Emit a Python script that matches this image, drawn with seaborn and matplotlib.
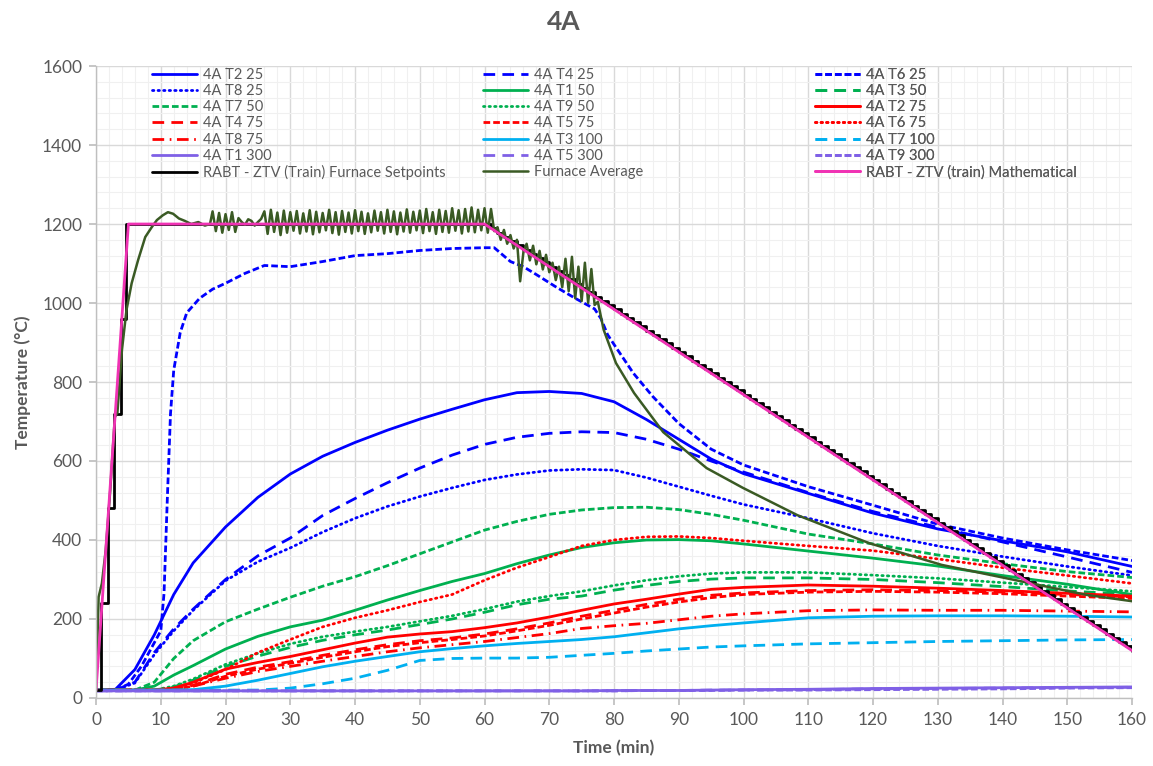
import numpy as np
import matplotlib
matplotlib.use("Agg")
import matplotlib.pyplot as plt
import seaborn as sns
from matplotlib.ticker import MultipleLocator

# ---------------- data ----------------
TIME = [0, 3, 6, 9, 12, 15, 20, 25, 30, 35, 40, 45, 50, 55, 60, 65, 70, 75, 80, 85, 90, 95, 100, 110, 120, 130, 140, 150, 160]

T2_25 = [20, 22, 72, 160, 262, 342, 433, 508, 567, 612, 647, 678, 706, 731, 755, 773, 776, 771, 750, 705, 655, 605, 568, 518, 468, 428, 398, 370, 333]
T4_25 = [20, 20, 40, 115, 175, 225, 300, 360, 405, 462, 505, 545, 582, 615, 642, 660, 670, 674, 672, 655, 630, 600, 572, 520, 472, 432, 395, 357, 318]
T8_25 = [20, 20, 38, 110, 170, 222, 297, 345, 380, 420, 455, 485, 510, 532, 552, 566, 576, 579, 577, 558, 535, 512, 490, 455, 417, 385, 358, 333, 310]
T1_50 = [20, 20, 20, 30, 58, 82, 124, 156, 180, 197, 222, 248, 272, 295, 315, 340, 362, 381, 393, 400, 401, 398, 390, 372, 354, 334, 310, 288, 262]
T3_50 = [20, 20, 20, 20, 28, 45, 80, 106, 128, 146, 160, 172, 186, 200, 217, 236, 250, 258, 273, 285, 295, 301, 304, 304, 300, 292, 282, 271, 262]
T7_50 = [20, 20, 20, 40, 100, 145, 193, 225, 255, 283, 307, 335, 365, 395, 425, 447, 465, 476, 482, 483, 477, 465, 450, 415, 390, 362, 340, 320, 305]
T9_50 = [20, 20, 20, 20, 30, 48, 85, 113, 137, 155, 168, 180, 194, 208, 225, 244, 258, 270, 285, 298, 308, 315, 318, 318, 311, 303, 292, 281, 270]
T2_75 = [20, 20, 20, 20, 25, 40, 73, 90, 105, 122, 139, 154, 162, 168, 178, 190, 205, 222, 238, 250, 263, 275, 280, 286, 283, 278, 272, 265, 258]
T4_75 = [20, 20, 20, 20, 22, 32, 60, 78, 92, 108, 122, 135, 145, 152, 162, 175, 190, 207, 222, 237, 250, 260, 266, 272, 274, 272, 268, 262, 256]
T5_75 = [20, 20, 20, 20, 22, 30, 55, 73, 88, 103, 117, 130, 140, 148, 157, 170, 184, 200, 215, 230, 243, 254, 262, 268, 270, 268, 264, 258, 252]
T6_75 = [20, 20, 20, 20, 25, 38, 72, 115, 148, 180, 203, 222, 243, 262, 298, 330, 357, 385, 400, 408, 409, 405, 398, 385, 373, 352, 330, 310, 290]
T8_75 = [20, 20, 20, 20, 21, 30, 50, 67, 80, 93, 105, 117, 127, 135, 143, 153, 163, 176, 183, 189, 198, 207, 213, 221, 223, 222, 222, 220, 218]
T3_100 = [20, 20, 20, 20, 20, 21, 30, 45, 62, 79, 93, 105, 117, 125, 132, 138, 143, 148, 155, 165, 175, 183, 190, 203, 207, 208, 208, 207, 205]
T7_100 = [20, 20, 20, 20, 20, 20, 20, 20, 25, 36, 50, 70, 95, 100, 101, 101, 103, 108, 113, 119, 124, 129, 132, 137, 140, 143, 145, 147, 148]
T1_300 = [18, 18, 18, 18, 18, 18, 18, 18, 18, 18, 18, 18, 18, 18, 18, 18, 18, 18, 19, 19, 19, 20, 21, 22, 24, 25, 26, 27, 28]
T5_300 = [18, 18, 18, 18, 18, 18, 18, 18, 18, 18, 18, 18, 18, 18, 18, 18, 18, 18, 18, 19, 19, 20, 20, 21, 23, 24, 25, 26, 27]
T9_300 = [18, 18, 18, 18, 18, 18, 18, 18, 18, 18, 18, 18, 18, 18, 18, 18, 18, 18, 18, 19, 19, 19, 20, 20, 21, 22, 23, 25, 26]

T6_25_TIME = [0, 3, 5, 7, 9, 10, 10.5, 11, 11.5, 12, 13, 14, 16, 18, 20, 23, 26, 30, 35, 40, 45, 50, 55, 60, 61.5,
              64, 66, 68, 71, 74, 77, 78, 79, 80, 83, 86, 90, 95, 100, 110, 120, 130, 140, 150, 160]
T6_25 = [20, 20, 35, 80, 140, 170, 265, 500, 720, 830, 925, 975, 1012, 1035, 1050, 1075, 1095, 1092, 1105, 1120, 1125, 1133, 1138, 1140, 1140,
         1105, 1092, 1072, 1041, 1012, 985, 960, 920, 895, 822, 763, 695, 630, 590, 535, 488, 440, 405, 375, 348]

SETPOINT_RISE_TIME = [0, 0.8, 1.8, 2.8, 3.8, 4.6]
SETPOINT_RISE = [20, 240, 480, 720, 960, 1200]
SETPOINT_DESC_START = 60
SETPOINT_DESC = [1200, 1189, 1178, 1168, 1157, 1146, 1135, 1124, 1114, 1103,
                 1092, 1081, 1070, 1060, 1049, 1038, 1027, 1016, 1006, 995,
                 984, 973, 962, 952, 941, 930, 919, 908, 898, 887,
                 876, 865, 854, 844, 833, 822, 811, 800, 790, 779,
                 768, 757, 746, 736, 725, 714, 703, 692, 682, 671,
                 660, 649, 638, 628, 617, 606, 595, 584, 574, 563,
                 552, 541, 530, 520, 509, 498, 487, 476, 466, 455,
                 444, 433, 422, 412, 401, 390, 379, 368, 358, 347,
                 336, 325, 314, 304, 293, 282, 271, 260, 250, 239,
                 228, 217, 206, 196, 185, 174, 163, 152, 142, 131, 120]

FURN_TIME = [0, 0.4, 0.9, 1.5, 2.2, 2.9, 3.3, 4.0, 4.7, 5.5, 6.5, 7.6, 8.6, 9.4, 10.3, 11.1, 11.9, 12.8, 13.7, 14.7, 15.8, 16.8, 17.6,
             18, 18.5, 19, 19.5, 20, 20.5, 21, 21.5, 22,
             22.5, 23, 23.5, 24, 24.5, 25, 25.5,
             26, 26.5, 27, 27.5, 28, 28.5, 29, 29.5, 30, 30.5, 31, 31.5, 32, 32.5, 33, 33.5, 34, 34.5, 35, 35.5,
             36, 36.5, 37, 37.5, 38, 38.5, 39, 39.5, 40, 40.5, 41, 41.5, 42, 42.5, 43, 43.5, 44, 44.5, 45, 45.5,
             46, 46.5, 47, 47.5, 48, 48.5, 49, 49.5, 50, 50.5, 51, 51.5, 52, 52.5, 53, 53.5, 54, 54.5, 55, 55.5,
             56, 56.5, 57, 57.5, 58, 58.5, 59, 59.5, 60, 60.5, 61, 61.5,
             62, 62.5, 63, 63.5, 64, 64.5, 65, 65.5, 66, 66.5, 67, 67.5, 68, 68.5, 69, 69.5, 70, 70.5,
             71, 71.5, 72, 72.5, 73, 73.5, 74, 74.5, 75, 75.5, 76, 76.5, 77, 77.5,
             78.4, 80.3, 83.1, 87.6, 94.3, 99.9, 108.3, 119.4, 130.6, 141.8, 153, 160]
FURN_AVG = [20, 256, 290, 375, 527, 711, 722, 881, 982, 1050, 1109, 1167, 1192, 1210, 1222, 1230, 1226, 1214, 1208, 1200, 1205, 1196, 1200,
            1232, 1182, 1228, 1178, 1225, 1185, 1230, 1180, 1215,
            1205, 1198, 1212, 1208, 1196, 1205, 1213,
            1232, 1175, 1236, 1180, 1229, 1172, 1234, 1178, 1230, 1183, 1233, 1176, 1227, 1181, 1235, 1174, 1231, 1179, 1228, 1184,
            1236, 1177, 1230, 1173, 1233, 1180, 1229, 1176, 1235, 1182, 1231, 1175, 1227, 1179, 1234, 1183, 1230, 1176, 1236, 1180,
            1232, 1174, 1229, 1181, 1237, 1178, 1231, 1184, 1234, 1177, 1238, 1182, 1230, 1175, 1236, 1180, 1233, 1178, 1240, 1183,
            1235, 1176, 1238, 1181, 1242, 1179, 1236, 1184, 1240, 1178, 1238, 1182,
            1192, 1160, 1185, 1150, 1172, 1138, 1160, 1055, 1128, 1150, 1108, 1145, 1098, 1132, 1085, 1122, 1078, 1102,
            1058, 1092, 1040, 1112, 1030, 1117, 1012, 1092, 1005, 1102, 1000, 1086, 995, 1003,
            932, 848, 772, 673, 582, 532, 463, 392, 337, 299, 261, 245]

MATH_TIME = [0, 5, 60, 160]
MATH = [20, 1200, 1200, 120]

X_TICKS = list(range(0, 161, 10))
Y_TICKS = list(range(0, 1601, 200))

# ---------------- styling ----------------
BLUE, GREEN, RED, LBLUE, PURPLE = "#0000FF", "#00B050", "#FF0000", "#00B0F0", "#7F60E6"
DKGREEN, BLACK, PINK = "#3A5A24", "#000000", "#F032B4"
SOLID = "-"
LDASH = (0, (4.2, 2.6))
SDASH = (0, (2.4, 1.1))
DOT = (0, (0.5, 1.5))
LDASHDOT = (0, (4.2, 2.0, 0.6, 2.0))

series = [
    ("4A T2 25", TIME, T2_25, BLUE, SOLID),
    ("4A T4 25", TIME, T4_25, BLUE, LDASH),
    ("4A T6 25", T6_25_TIME, T6_25, BLUE, SDASH),
    ("4A T8 25", TIME, T8_25, BLUE, DOT),
    ("4A T1 50", TIME, T1_50, GREEN, SOLID),
    ("4A T3 50", TIME, T3_50, GREEN, LDASH),
    ("4A T7 50", TIME, T7_50, GREEN, SDASH),
    ("4A T9 50", TIME, T9_50, GREEN, DOT),
    ("4A T2 75", TIME, T2_75, RED, SOLID),
    ("4A T4 75", TIME, T4_75, RED, LDASH),
    ("4A T5 75", TIME, T5_75, RED, SDASH),
    ("4A T6 75", TIME, T6_75, RED, DOT),
    ("4A T8 75", TIME, T8_75, RED, LDASHDOT),
    ("4A T3 100", TIME, T3_100, LBLUE, SOLID),
    ("4A T7 100", TIME, T7_100, LBLUE, LDASH),
    ("4A T1 300", TIME, T1_300, PURPLE, SOLID),
    ("4A T5 300", TIME, T5_300, PURPLE, LDASH),
    ("4A T9 300", TIME, T9_300, PURPLE, SDASH),
]

sns.set_theme(style="white")
plt.rcParams['font.family'] = ['Lato', 'DejaVu Sans']
GRAY = "#595959"

fig = plt.figure(figsize=(11.53, 7.66), dpi=100)
ax = fig.add_axes([0.0833, 0.0888, 0.8985, 0.825])

for label, t, v, c, ls in series:
    sns.lineplot(x=t, y=v, ax=ax, color=c, linestyle=ls, lw=2.0, label=label,
                 estimator=None, errorbar=None, sort=False, legend=False,
                 dash_capstyle="round" if ls == DOT else "butt")

sp_time = SETPOINT_RISE_TIME + list(np.arange(SETPOINT_DESC_START, SETPOINT_DESC_START + len(SETPOINT_DESC)))
sp_vals = SETPOINT_RISE + SETPOINT_DESC
sns.lineplot(x=sp_time, y=sp_vals, ax=ax, color=BLACK, lw=2.0, drawstyle="steps-post",
             label="RABT - ZTV (Train) Furnace Setpoints", estimator=None, errorbar=None, sort=False, legend=False)
sns.lineplot(x=FURN_TIME, y=FURN_AVG, ax=ax, color=DKGREEN, lw=1.8, label="Furnace Average",
             estimator=None, errorbar=None, sort=False, legend=False)
sns.lineplot(x=MATH_TIME, y=MATH, ax=ax, color=PINK, lw=2.0, label="RABT - ZTV (train) Mathematical",
             estimator=None, errorbar=None, sort=False, legend=False)

ax.set_xlim(0, 160)
ax.set_ylim(0, 1600)
ax.set_xticks(X_TICKS)
ax.set_yticks(Y_TICKS)
ax.xaxis.set_minor_locator(MultipleLocator(2))
ax.yaxis.set_minor_locator(MultipleLocator(40))
ax.grid(which="major", color="#D9D9D9", lw=1.0, zorder=0)
ax.grid(which="minor", color="#F0F0F0", lw=0.8, zorder=0)
ax.set_axisbelow(True)
for s in ["top", "right"]:
    ax.spines[s].set_visible(False)
for s in ["left", "bottom"]:
    ax.spines[s].set_color("#BFBFBF")
    ax.spines[s].set_linewidth(1.0)
ax.tick_params(which="major", length=5, color="#BFBFBF", labelsize=12.5, labelcolor=GRAY, pad=5,
               bottom=True, left=True)
ax.tick_params(which="minor", length=0)

ax.set_xlabel("Time (min)", fontsize=12.5, fontweight="bold", color=GRAY, labelpad=9)
ax.set_ylabel("Temperature (°C)", fontsize=12.5, fontweight="bold", color=GRAY, labelpad=8)
fig.text(0.4885, 0.971, "4A", ha="center", va="center", fontsize=19, fontweight="bold", color=GRAY)

handles, labels = ax.get_legend_handles_labels()
col_x = [0.054, 0.3736, 0.694]
for c in range(3):
    idx = list(range(c, len(handles), 3))
    leg = ax.legend([handles[i] for i in idx], [labels[i] for i in idx], loc="upper left",
                    bbox_to_anchor=(col_x[c], 0.997), borderpad=0, borderaxespad=0, frameon=False,
                    fontsize=10.5, labelcolor=GRAY, handlelength=3.1, handletextpad=0.4,
                    labelspacing=0.15)
    ax.add_artist(leg)

fig.savefig("out.png", dpi=100, facecolor="white")
